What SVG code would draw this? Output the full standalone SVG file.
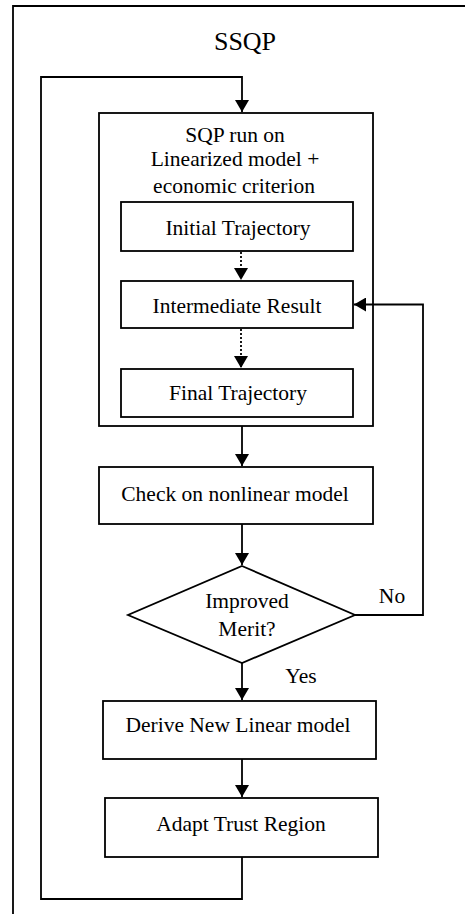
<svg xmlns="http://www.w3.org/2000/svg" width="465" height="914" viewBox="0 0 465 914" font-family="'Liberation Serif', 'Times New Roman', serif">
<defs>
<marker id="ah" markerUnits="userSpaceOnUse" markerWidth="14" markerHeight="14" viewBox="0 0 14 14" refX="12" refY="7" orient="auto">
<path d="M0,0 L12,7 L0,14 Z" fill="#000"/>
</marker>
</defs>
<style>
.b{fill:#fff;stroke:#000;stroke-width:1.8}
.l{fill:none;stroke:#000;stroke-width:1.8}
.d{fill:none;stroke:#000;stroke-width:1.8;stroke-dasharray:2 2}
text{font-family:'Liberation Serif','Times New Roman',serif;font-size:21.5px;fill:#000;text-anchor:middle}
</style>
<rect width="465" height="914" fill="#fff"/>
<path class="l" d="M13,914 V6 H465"/>
<text x="245" y="50" style="font-size:26px">SSQP</text>
<g id="sqp">
<rect class="b" x="99" y="113" width="274" height="313"/>
<text x="235" y="142">SQP run on</text>
<text x="235" y="166">Linearized model +</text>
<text x="234" y="193">economic criterion</text>
</g>
<g id="initial">
<rect class="b" x="121" y="202" width="232" height="49"/>
<text x="238" y="235">Initial Trajectory</text>
</g>
<g id="intermediate">
<rect class="b" x="121" y="281" width="232" height="47"/>
<text x="237" y="313">Intermediate Result</text>
</g>
<g id="final">
<rect class="b" x="121" y="369" width="232" height="48"/>
<text x="238" y="400">Final Trajectory</text>
</g>
<g id="check">
<rect class="b" x="99" y="467" width="274" height="57"/>
<text x="235" y="501">Check on nonlinear model</text>
</g>
<g id="merit">
<path class="b" d="M242,566 L355,615 L242,663 L128,615 Z"/>
<text x="247" y="608">Improved</text>
<text x="247" y="636">Merit?</text>
</g>
<g id="derive">
<rect class="b" x="103" y="701" width="273" height="58"/>
<text x="238" y="732">Derive New Linear model</text>
</g>
<g id="adapt">
<rect class="b" x="105" y="798" width="273" height="59"/>
<text x="241" y="831">Adapt Trust Region</text>
</g>
<g id="connectors">
<path class="l" d="M242,857 V899 H41 V77 H242 V112" marker-end="url(#ah)"/>
<path class="d" d="M241,252 V280" marker-end="url(#ah)"/>
<path class="d" d="M241,329 V368" marker-end="url(#ah)"/>
<path class="l" d="M242,426 V466" marker-end="url(#ah)"/>
<path class="l" d="M242,524 V565" marker-end="url(#ah)"/>
<path class="l" d="M355,615 H423 V304.5 H354" marker-end="url(#ah)"/>
<path class="l" d="M242,663 V700" marker-end="url(#ah)"/>
<path class="l" d="M242,759 V797" marker-end="url(#ah)"/>
<text x="392" y="603">No</text>
<text x="301" y="683">Yes</text>
</g>
</svg>
